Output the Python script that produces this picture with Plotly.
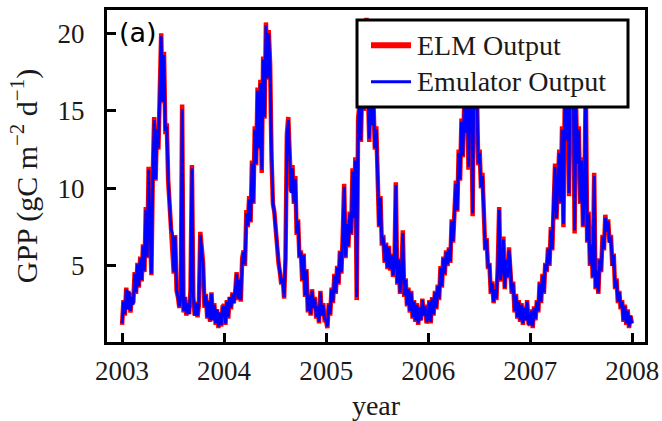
import pandas as pd
import plotly.graph_objects as go

# GPP sampled every 5 days, 2003-01-01 .. 2007-12-31 (gC m-2 d-1)
elm_2003 = [1.2, 2.8, 1.8, 3.6, 2.2, 3.3, 2.0, 3.0, 2.6, 4.6, 3.2, 5.2, 3.6, 5.6, 4.0, 6.4,
            4.6, 8.8, 5.5, 11.4, 7.5, 4.4, 11.0, 14.6, 10.5, 14.0, 12.5, 17.5, 20.0, 15.5,
            18.8, 13.5, 14.2, 10.5, 9.0, 7.5, 7.2, 4.5, 7.0, 3.4, 3.0, 2.3, 2.8, 15.4, 2.0,
            3.0, 1.8, 2.6, 1.9, 3.5, 11.5, 3.0, 1.8, 2.7, 1.7, 2.5, 7.2, 6.0, 5.2, 2.3, 3.2,
            1.6, 2.8, 1.4, 3.3, 1.5, 2.6, 1.2, 2.2, 1.0, 2.0, 1.1, 2.4]
elm_2004 = [2.5, 1.2, 2.8, 1.6, 3.0, 2.2, 3.3, 2.6, 3.3, 4.6, 2.8, 4.2, 2.7, 5.5, 6.0, 5.0,
            8.6, 7.5, 9.5, 7.8, 11.8, 9.0, 14.0, 11.5, 16.5, 12.5, 17.0, 11.0, 18.5, 14.5,
            20.7, 17.0, 20.2, 18.0, 12.0, 9.0, 8.5, 7.2, 6.3, 5.2, 4.6, 3.8, 4.3, 2.9, 5.5,
            13.5, 14.6, 12.0, 9.8, 11.5, 9.0, 10.8, 7.0, 8.0, 5.5, 6.0, 4.0, 5.8, 3.0, 4.8,
            2.0, 3.2, 1.8, 3.5, 2.3, 3.0, 1.6, 2.4, 1.3, 3.4, 1.8, 2.6, 1.5]
elm_2005 = [1.5, 1.0, 2.6, 1.8, 3.6, 2.6, 4.5, 3.2, 5.0, 3.8, 6.0, 4.5, 7.0, 10.3, 5.5, 7.8,
            6.2, 8.5, 7.0, 11.3, 8.0, 12.0, 2.8, 14.5, 15.5, 13.0, 17.5, 15.0, 19.5, 21.0,
            16.5, 13.0, 17.5, 14.0, 15.5, 12.5, 14.0, 11.0, 7.5, 9.5, 6.3, 7.0, 5.2, 6.5, 4.8,
            6.3, 4.7, 5.8, 4.3, 5.0, 10.4, 3.8, 5.5, 3.2, 4.6, 7.3, 3.0, 4.2, 2.4, 3.6, 2.0,
            3.4, 1.6, 2.8, 1.4, 2.6, 1.2, 2.4, 1.5, 2.9, 1.8, 2.5, 1.3]
elm_2006 = [1.6, 2.8, 1.3, 3.0, 1.8, 3.4, 2.2, 3.8, 2.8, 5.0, 3.6, 5.6, 4.4, 6.0, 5.0, 6.2,
            5.2, 8.0, 6.5, 8.8, 10.5, 8.5, 12.5, 10.5, 14.5, 12.0, 15.5, 13.5, 18.0, 11.2,
            19.5, 16.0, 8.2, 18.0, 15.0, 16.5, 11.5, 12.5, 10.0, 11.0, 7.5, 6.0, 6.8, 4.8,
            5.2, 3.2, 4.0, 2.6, 3.6, 2.8, 5.0, 8.8, 4.0, 5.0, 6.9, 3.5, 5.5, 4.2, 6.2, 5.0,
            3.2, 4.0, 2.0, 3.2, 1.6, 2.8, 1.4, 2.6, 1.2, 2.4, 1.5, 2.8, 1.3]
elm_2007 = [1.2, 2.2, 1.0, 2.4, 1.5, 2.8, 2.0, 4.0, 2.6, 4.5, 3.2, 5.2, 4.6, 6.2, 5.0, 7.5,
            6.0, 9.5, 11.6, 8.0, 10.5, 12.5, 9.0, 14.0, 7.5, 16.0, 13.0, 18.5, 9.5, 19.5,
            15.0, 17.5, 7.1, 15.5, 11.5, 14.0, 9.0, 12.0, 7.5, 9.5, 17.0, 6.5, 8.5, 5.0, 6.5,
            4.2, 11.0, 3.5, 4.8, 3.2, 5.5, 4.6, 7.0, 6.0, 8.3, 7.2, 8.0, 6.5, 7.0, 5.0, 5.8,
            3.5, 4.2, 2.6, 3.4, 2.2, 2.8, 1.4, 2.5, 1.2, 2.2, 1.0, 1.8, 1.3]

emu_2003 = [1.3, 2.7, 1.9, 3.5, 2.2, 3.4, 2.1, 3.0, 2.5, 4.5, 3.3, 5.1, 3.7, 5.5, 4.1, 6.3,
            4.7, 8.6, 5.6, 11.2, 7.6, 4.5, 10.8, 14.4, 10.6, 13.8, 12.6, 17.3, 19.8, 15.6,
            18.6, 13.7, 14.0, 10.6, 9.1, 7.4, 7.1, 4.6, 6.9, 3.5, 3.0, 2.4, 2.8, 15.1, 2.1,
            3.0, 1.9, 2.6, 1.9, 3.4, 11.3, 3.1, 1.8, 2.6, 1.8, 2.5, 7.0, 6.1, 5.1, 2.4, 3.1,
            1.7, 2.7, 1.5, 3.2, 1.5, 2.5, 1.3, 2.2, 1.1, 2.0, 1.2, 2.3]
emu_2004 = [2.4, 1.3, 2.7, 1.7, 3.0, 2.3, 3.2, 2.6, 3.4, 4.5, 2.9, 4.1, 2.8, 5.4, 5.9, 5.1,
            8.4, 7.6, 9.3, 7.9, 11.6, 9.1, 13.8, 11.6, 16.3, 12.6, 16.8, 11.2, 18.3, 14.6,
            20.5, 17.1, 20.0, 17.8, 12.2, 9.1, 8.4, 7.3, 6.2, 5.3, 4.6, 3.9, 4.2, 3.0, 5.4,
            13.3, 14.4, 12.1, 9.7, 11.3, 9.1, 10.6, 7.1, 7.9, 5.6, 5.9, 4.1, 5.7, 3.1, 4.7,
            2.1, 3.1, 1.9, 3.4, 2.3, 2.9, 1.7, 2.4, 1.4, 3.3, 1.8, 2.5, 1.6]
emu_2005 = [1.5, 1.1, 2.5, 1.9, 3.5, 2.7, 4.4, 3.3, 4.9, 3.9, 5.9, 4.6, 6.9, 10.1, 5.6, 7.7,
            6.3, 8.4, 7.1, 11.1, 8.1, 11.8, 3.0, 14.3, 15.3, 13.1, 17.3, 15.1, 19.3, 20.9,
            16.4, 13.2, 17.3, 14.1, 15.3, 12.6, 13.8, 11.1, 7.6, 9.4, 6.4, 6.9, 5.3, 6.4, 4.9,
            6.2, 4.8, 5.7, 4.4, 5.0, 10.2, 3.9, 5.4, 3.3, 4.5, 7.1, 3.1, 4.1, 2.5, 3.5, 2.1,
            3.3, 1.7, 2.7, 1.5, 2.5, 1.3, 2.3, 1.5, 2.8, 1.8, 2.4, 1.4]
emu_2006 = [1.6, 2.7, 1.4, 2.9, 1.9, 3.3, 2.3, 3.7, 2.9, 4.9, 3.7, 5.5, 4.5, 5.9, 5.1, 6.1,
            5.3, 7.9, 6.6, 8.6, 10.3, 8.6, 12.3, 10.6, 14.3, 12.1, 15.3, 13.6, 17.8, 11.4,
            19.3, 16.1, 8.4, 17.8, 15.1, 16.3, 11.6, 12.3, 10.1, 10.8, 7.6, 6.1, 6.7, 4.9,
            5.1, 3.3, 3.9, 2.7, 3.5, 2.9, 4.9, 8.6, 4.1, 4.9, 6.7, 3.6, 5.4, 4.3, 6.0, 5.0,
            3.3, 3.9, 2.1, 3.1, 1.7, 2.7, 1.5, 2.5, 1.3, 2.3, 1.5, 2.7, 1.3]
emu_2007 = [1.3, 2.1, 1.1, 2.3, 1.6, 2.7, 2.1, 3.9, 2.7, 4.4, 3.3, 5.1, 4.7, 6.1, 5.1, 7.3,
            6.1, 9.3, 11.4, 8.1, 10.3, 12.3, 9.1, 13.8, 7.7, 15.8, 13.1, 18.3, 9.7, 19.3,
            15.1, 17.3, 7.3, 15.3, 11.6, 13.8, 9.1, 11.8, 7.6, 9.4, 16.7, 6.6, 8.4, 5.1, 6.4,
            4.3, 10.8, 3.6, 4.7, 3.3, 5.4, 4.7, 6.9, 6.1, 8.1, 7.2, 7.9, 6.5, 6.9, 5.0, 5.7,
            3.6, 4.1, 2.7, 3.3, 2.3, 2.7, 1.5, 2.4, 1.3, 2.1, 1.1, 1.8, 1.3]

elm = elm_2003 + elm_2004 + elm_2005 + elm_2006 + elm_2007
emu = emu_2003 + emu_2004 + emu_2005 + emu_2006 + emu_2007
dates = pd.date_range("2003-01-01", periods=len(elm), freq="5D")

year_ticks = ["2003", "2004", "2005", "2006", "2007", "2008"]
gpp_ticks = [5, 10, 15, 20]
series_names = ["ELM Output", "Emulator Output"]
series_colors = ["#ff0000", "#0000ff"]

SERIF = "Liberation Serif"
TEXT = "#1a1a1a"

fig = go.Figure()
fig.add_trace(go.Scatter(x=dates, y=elm, mode="lines", name=series_names[0],
                         line=dict(color=series_colors[0], width=4.5)))
fig.add_trace(go.Scatter(x=dates, y=emu, mode="lines", name=series_names[1],
                         line=dict(color=series_colors[1], width=2.8)))

fig.update_layout(
    width=662, height=421,
    margin=dict(l=107, r=17, t=10, b=79),
    paper_bgcolor="white", plot_bgcolor="white",
    font=dict(family=SERIF, size=27, color=TEXT),
    showlegend=False,
    xaxis=dict(
        type="date",
        automargin=False,
        range=["2002-11-08", "2008-02-16"],
        tickmode="array",
        tickvals=[f"{y}-01-01" for y in year_ticks],
        ticktext=year_ticks,
        ticks="inside", ticklen=9, tickwidth=2.5, tickcolor="black",
        showline=True, linecolor="black", linewidth=3, mirror=True,
        showgrid=False, zeroline=False,
        tickfont=dict(family=SERIF, size=27, color=TEXT),
        ticklabelstandoff=3,
        title=dict(text="year", font=dict(family=SERIF, size=28, color=TEXT),
                   standoff=17),
    ),
    yaxis=dict(
        automargin=False,
        range=[0.1, 21.5],
        tickmode="array",
        tickvals=gpp_ticks,
        ticktext=[str(v) for v in gpp_ticks],
        ticks="inside", ticklen=9, tickwidth=2.5, tickcolor="black",
        showline=True, linecolor="black", linewidth=3, mirror=True,
        showgrid=False, zeroline=False,
        tickfont=dict(family=SERIF, size=27, color=TEXT),
        ticklabelstandoff=14,
        title=dict(text="GPP (gC m<sup>\u22122</sup> d<sup>\u22121</sup>)",
                   font=dict(family=SERIF, size=30, color=TEXT),
                   standoff=12),
    ),
)

# Legend box drawn over the curves in the upper right corner
LEG_X0, LEG_X1, LEG_Y0, LEG_Y1 = 0.4647, 0.9684, 0.7078, 0.9699
LEG_FONT = 28
fig.add_shape(type="rect", xref="paper", yref="paper",
              x0=LEG_X0, x1=LEG_X1, y0=LEG_Y0, y1=LEG_Y1,
              fillcolor="white", line=dict(color="black", width=3), layer="above")

# one line of text per series; sample strokes sit on the text rows
row_step = LEG_FONT * 1.3 / 332.0
mid = (LEG_Y0 + LEG_Y1) / 2
rows_y = [mid + row_step / 2, mid - row_step / 2]
for color, yy, lw in zip(series_colors, rows_y, [6, 3]):
    fig.add_shape(type="line", xref="paper", yref="paper",
                  x0=0.4907, x1=0.5651, y0=yy, y1=yy,
                  line=dict(color=color, width=lw), layer="above")
fig.add_annotation(x=0.5725, y=mid, xref="paper", yref="paper",
                   xanchor="left", yanchor="middle", align="left", showarrow=False,
                   text="<br>".join(series_names),
                   font=dict(family=SERIF, size=LEG_FONT, color=TEXT))

fig.add_annotation(
    x=0.018, y=0.985, xref="paper", yref="paper",
    xanchor="left", yanchor="top", showarrow=False,
    text="(a)", font=dict(family="DejaVu Sans", size=27, color="black"),
)

fig.write_html("out.html")
